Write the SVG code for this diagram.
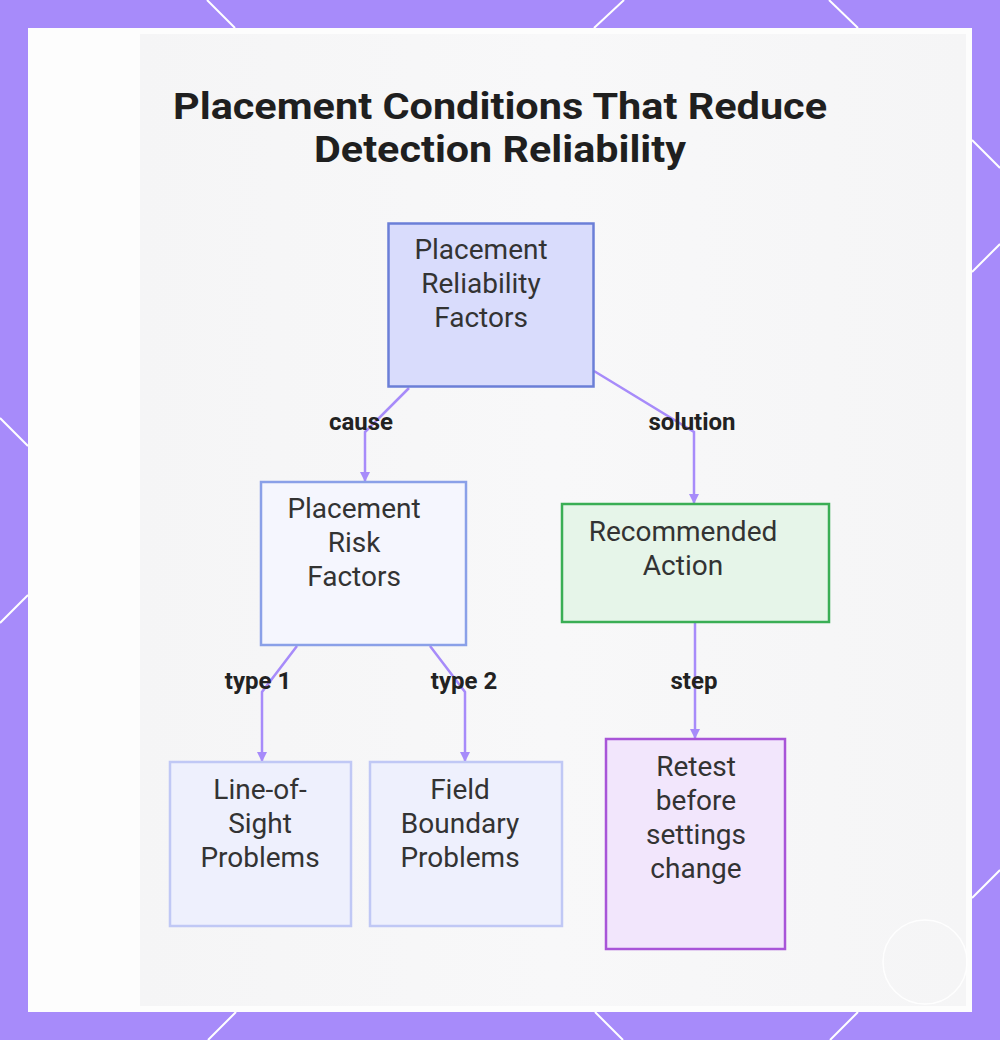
<svg xmlns="http://www.w3.org/2000/svg" width="1000" height="1040" viewBox="0 0 1000 1040">
  <defs>
    <style>
      .title { font-family: Roboto, "Liberation Sans", sans-serif; font-weight: 700; font-size: 37.5px; fill: #1f1f1f; text-anchor: middle; }
      .ntext { font-family: Roboto, "Liberation Sans", sans-serif; font-size: 28px; fill: #333333; text-anchor: middle; }
      .elabel { font-family: Roboto, "Liberation Sans", sans-serif; font-weight: 700; font-size: 24px; fill: #222222; text-anchor: middle; }
      .edge { fill: none; stroke: #a78bfa; stroke-width: 2.5; marker-end: url(#arrow); }
      .hex { stroke: #ffffff; stroke-width: 2; fill: none; }
    </style>
    <marker id="arrow" viewBox="0 0 10 10" refX="9" refY="5" markerWidth="4" markerHeight="4" orient="auto">
      <path d="M0,0 L10,5 L0,10 z" fill="#a78bfa"/>
    </marker>
    <linearGradient id="bg" x1="0" y1="0" x2="1" y2="0">
      <stop offset="0" stop-color="#f5f5f6"/>
      <stop offset="0.5" stop-color="#f8f8f9"/>
      <stop offset="1" stop-color="#f5f5f6"/>
    </linearGradient>
  </defs>

  <!-- frame -->
  <rect x="0" y="0" width="1000" height="1040" fill="#a78bfa"/>
  <g class="hex">
    <line x1="207" y1="0" x2="235" y2="28"/>
    <line x1="624" y1="0" x2="594" y2="28"/>
    <line x1="829" y1="0" x2="858" y2="28"/>
    <line x1="972" y1="140" x2="1000" y2="168"/>
    <line x1="972" y1="272" x2="1000" y2="244"/>
    <line x1="0" y1="418" x2="28" y2="446"/>
    <line x1="28" y1="595" x2="0" y2="623"/>
    <line x1="972" y1="898" x2="1000" y2="870"/>
    <line x1="208" y1="1040" x2="236" y2="1012"/>
    <line x1="595" y1="1012" x2="623" y2="1040"/>
    <line x1="858" y1="1012" x2="830" y2="1040"/>
  </g>
  <rect x="28" y="28" width="944" height="984" fill="#fdfdfd"/>
  <rect x="140" y="34" width="826" height="972" fill="url(#bg)"/>
  <circle cx="925" cy="962" r="42" fill="none" stroke="#ffffff" stroke-width="1.5" opacity="0.9"/>

  <!-- title -->
  <text class="title" x="500" y="119" textLength="654" lengthAdjust="spacingAndGlyphs">Placement Conditions That Reduce</text>
  <text class="title" x="500" y="162" textLength="372" lengthAdjust="spacingAndGlyphs">Detection Reliability</text>

  <!-- connectors -->
  <g id="connectors">
    <polyline class="edge" points="409,388 365,432 365,481"/>
    <polyline class="edge" points="594,371 694,432 694,503"/>
    <polyline class="edge" points="297,646 262,692 262,761"/>
    <polyline class="edge" points="430,646 465,692 465,761"/>
    <polyline class="edge" points="695,623 695,738"/>
    <text class="elabel" x="361" y="430">cause</text>
    <text class="elabel" x="692" y="430">solution</text>
    <text class="elabel" x="258" y="689">type 1</text>
    <text class="elabel" x="464" y="689">type 2</text>
    <text class="elabel" x="694" y="689">step</text>
  </g>

  <!-- nodes -->
  <g id="node-reliability">
    <rect x="388.5" y="223.5" width="205" height="163" fill="#d9dcfc" stroke="#6b7fd7" stroke-width="2.5"/>
    <text class="ntext" x="481" y="259">Placement</text>
    <text class="ntext" x="481" y="293">Reliability</text>
    <text class="ntext" x="481" y="327">Factors</text>
  </g>
  <g id="node-risk">
    <rect x="261" y="482" width="205" height="163" fill="#f5f6fe" stroke="#8aa0e8" stroke-width="2.5"/>
    <text class="ntext" x="354" y="518">Placement</text>
    <text class="ntext" x="354" y="552">Risk</text>
    <text class="ntext" x="354" y="586">Factors</text>
  </g>
  <g id="node-action">
    <rect x="562" y="504" width="267" height="118" fill="#e6f5e9" stroke="#3aae55" stroke-width="2.5"/>
    <text class="ntext" x="683" y="541">Recommended</text>
    <text class="ntext" x="683" y="575">Action</text>
  </g>
  <g id="node-los">
    <rect x="170" y="762" width="181" height="164" fill="#eef0fd" stroke="#c0c8f5" stroke-width="2.5"/>
    <text class="ntext" x="260" y="799">Line-of-</text>
    <text class="ntext" x="260" y="833">Sight</text>
    <text class="ntext" x="260" y="867">Problems</text>
  </g>
  <g id="node-field">
    <rect x="370" y="762" width="192" height="164" fill="#eef0fd" stroke="#c0c8f5" stroke-width="2.5"/>
    <text class="ntext" x="460" y="799">Field</text>
    <text class="ntext" x="460" y="833">Boundary</text>
    <text class="ntext" x="460" y="867">Problems</text>
  </g>
  <g id="node-retest">
    <rect x="606" y="739" width="179" height="210" fill="#f2e6fc" stroke="#a855d8" stroke-width="2.5"/>
    <text class="ntext" x="696" y="776">Retest</text>
    <text class="ntext" x="696" y="810">before</text>
    <text class="ntext" x="696" y="844">settings</text>
    <text class="ntext" x="696" y="878">change</text>
  </g>
</svg>
